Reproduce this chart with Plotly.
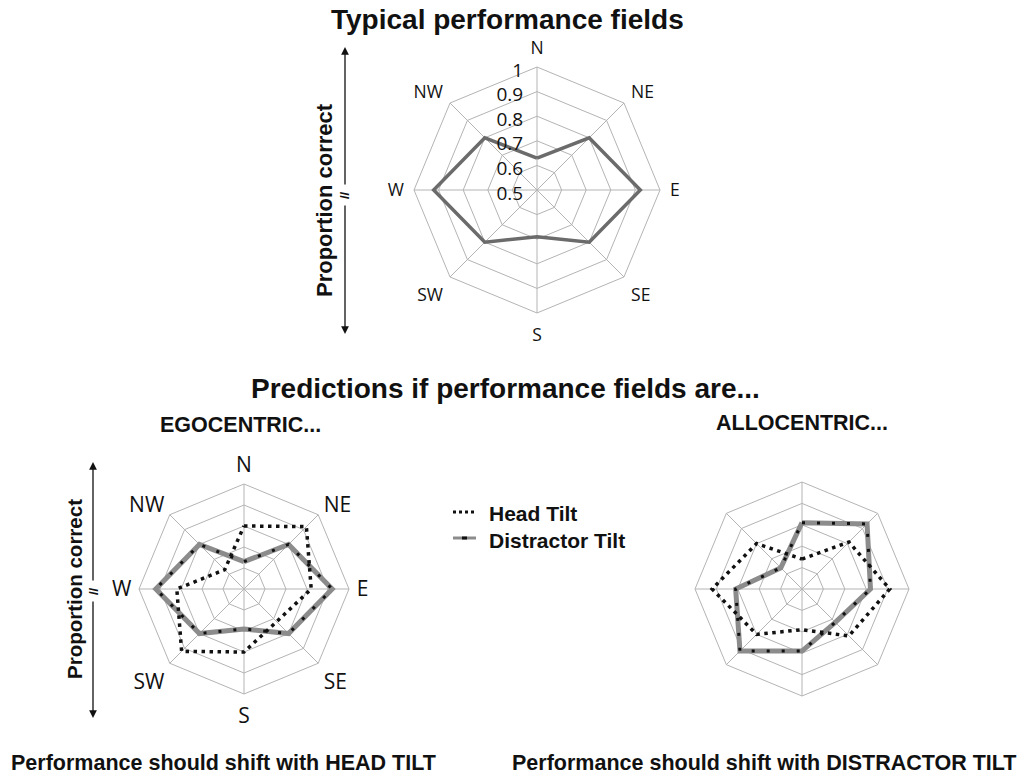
import plotly.graph_objects as go

W, H = 1020, 775

directions = ["N", "NE", "E", "SE", "S", "SW", "W", "NW"]
radial_ticks = [0.5, 0.6, 0.7, 0.8, 0.9, 1.0]

typical = [0.63, 0.80, 0.92, 0.80, 0.69, 0.80, 0.92, 0.80]

ego_head_tilt = [0.80, 0.92, 0.82, 0.72, 0.80, 0.92, 0.82, 0.63]
ego_distractor_tilt = [0.63, 0.80, 0.92, 0.80, 0.69, 0.80, 0.92, 0.80]

allo_head_tilt = [0.64, 0.81, 0.91, 0.81, 0.69, 0.80, 0.92, 0.80]
allo_distractor_tilt = [0.81, 0.93, 0.82, 0.72, 0.79, 0.91, 0.81, 0.64]


def px(x):
    return x / W


def py(y):
    return 1 - y / H


def closed(vals):
    return list(vals) + [vals[0]]


theta = closed(directions)

GRID = "#b4b4b4"
BOLD = "Liberation Sans"

fig = go.Figure()

# top chart
fig.add_trace(go.Scatterpolar(r=closed(typical), theta=theta, mode="lines",
                              line=dict(color="#6b6b6b", width=3.5), subplot="polar"))

# egocentric
fig.add_trace(go.Scatterpolar(r=closed(ego_distractor_tilt), theta=theta, mode="lines",
                              line=dict(color="#8c8c8c", width=5), subplot="polar2"))
fig.add_trace(go.Scatterpolar(r=closed(ego_distractor_tilt), theta=theta, mode="lines",
                              line=dict(color="#111", width=3, dash="3px,12px"), subplot="polar2"))
fig.add_trace(go.Scatterpolar(r=closed(ego_head_tilt), theta=theta, mode="lines",
                              line=dict(color="#111", width=3.5, dash="3.5px,4.5px"), subplot="polar2"))

# allocentric
fig.add_trace(go.Scatterpolar(r=closed(allo_distractor_tilt), theta=theta, mode="lines",
                              line=dict(color="#8c8c8c", width=5), subplot="polar3"))
fig.add_trace(go.Scatterpolar(r=closed(allo_distractor_tilt), theta=theta, mode="lines",
                              line=dict(color="#111", width=3, dash="3px,12px"), subplot="polar3"))
fig.add_trace(go.Scatterpolar(r=closed(allo_head_tilt), theta=theta, mode="lines",
                              line=dict(color="#111", width=3.5, dash="3.5px,4.5px"), subplot="polar3"))


def polar_cfg(cx, cy, rad, show_ang, show_rad, ang_size, ticklen):
    return dict(
        domain=dict(x=[px(cx - rad), px(cx + rad)], y=[py(cy + rad), py(cy - rad)]),
        gridshape="linear",
        bgcolor="white",
        angularaxis=dict(rotation=90, direction="clockwise", categoryorder="array",
                         categoryarray=directions, showline=True, linecolor=GRID,
                         linewidth=1, gridcolor=GRID, gridwidth=1,
                         ticks="outside", ticklen=ticklen, tickcolor="rgba(0,0,0,0)",
                         showticklabels=show_ang,
                         tickfont=dict(family="Open Sans", size=ang_size, color="#111")),
        radialaxis=dict(range=[0.5, 1], tickvals=radial_ticks, showline=False,
                        gridcolor=GRID, gridwidth=1, ticks="", angle=90,
                        side="counterclockwise", showticklabels=show_rad,
                        tickfont=dict(family="Open Sans", size=19, color="#111")),
    )


fig.update_layout(
    width=W, height=H, margin=dict(l=0, r=0, t=0, b=0),
    paper_bgcolor="white", plot_bgcolor="white", showlegend=False,
    polar=polar_cfg(537, 190, 123, True, True, 17.5, 6),
    polar2=polar_cfg(244, 589, 105, True, False, 21, 3),
    polar3=polar_cfg(802, 589, 107, False, False, 21, 3),
)

ann = []


def text(x, y, s, size, xanchor="center", angle=0, family=BOLD, bold=True):
    ann.append(dict(x=px(x), y=py(y), xref="paper", yref="paper", showarrow=False,
                    text=f"<b>{s}</b>" if bold else s, xanchor=xanchor, yanchor="middle",
                    textangle=angle, font=dict(family=family, size=size, color="#111")))


text(507, 19, "Typical performance fields", 28)
text(505, 388, "Predictions if performance fields are...", 28)
text(240, 425, "EGOCENTRIC...", 21.5)
text(802, 423, "ALLOCENTRIC...", 21.5)
text(223, 763, "Performance should shift with HEAD TILT", 21.5)
text(764, 763, "Performance should shift with DISTRACTOR TILT", 21.5)
text(487, 513, "Head Tilt", 21, xanchor="left")
text(487, 540, "Distractor Tilt", 21, xanchor="left")

# proportion correct labels
text(324, 200, "Proportion correct", 22, angle=-90)
text(74, 589, "Proportion correct", 20.5, angle=-90)
text(345, 195, "//", 13, angle=-90)
text(93, 591, "//", 13, angle=-90)


def arrow(x, y0, y1):
    ann.append(dict(x=px(x), y=py(y1), xref="paper", yref="paper", ax=0, ay=y0 - y1,
                    axref="pixel", ayref="pixel", showarrow=True, arrowhead=2,
                    arrowsize=1.2, arrowwidth=1.3, arrowcolor="#111", text=""))


arrow(345, 186, 47)
arrow(345, 204, 334)
arrow(93, 582, 462)
arrow(93, 600, 718)

fig.update_layout(annotations=ann)

shapes = [
    dict(type="line", xref="paper", yref="paper", x0=px(453), x1=px(476), y0=py(512), y1=py(512),
         line=dict(color="#111", width=3, dash="3px,3px")),
    dict(type="line", xref="paper", yref="paper", x0=px(453), x1=px(476), y0=py(538), y1=py(538),
         line=dict(color="#8c8c8c", width=3)),
    dict(type="line", xref="paper", yref="paper", x0=px(462), x1=px(467), y0=py(538), y1=py(538),
         line=dict(color="#111", width=3)),
]
fig.update_layout(shapes=shapes)

fig.write_html("out.html", config={"displayModeBar": False},
               post_script="document.body.style.margin='0';")
